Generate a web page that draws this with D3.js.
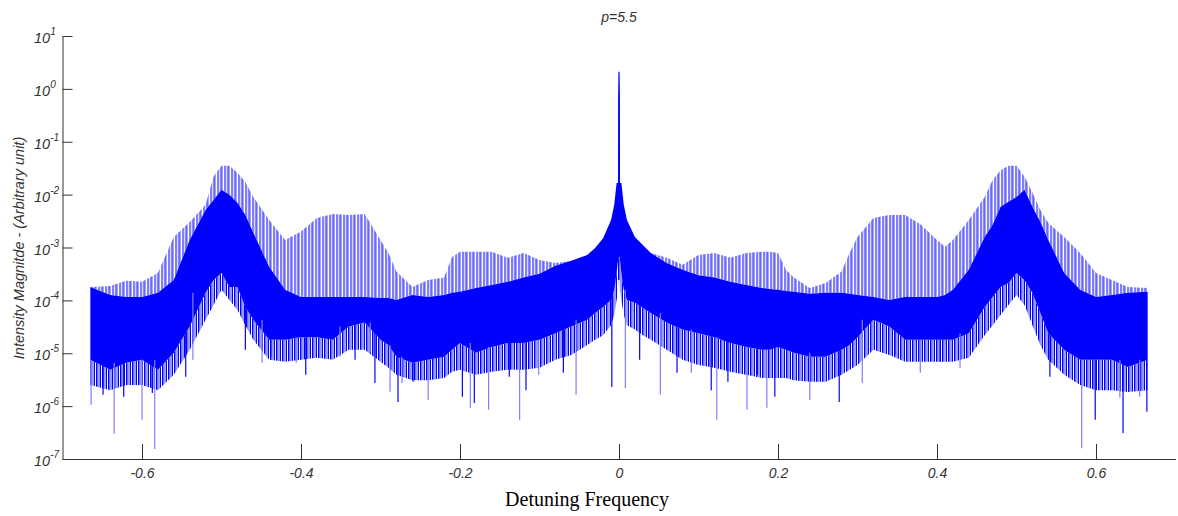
<!DOCTYPE html>
<html>
<head>
<meta charset="utf-8">
<script src="https://cdn.jsdelivr.net/npm/d3@7/dist/d3.min.js"></script>
<style>
  body { margin: 0; background: #fff; }
  svg text { font-family: "Liberation Sans", Arial, sans-serif; fill: #333; }
</style>
</head>
<body>
<div id="chart"></div>
<script>
// detuning frequency grid and the envelopes of the spectrum
var freq = [-0.665, -0.64, -0.62, -0.60, -0.58, -0.56, -0.54, -0.52, -0.51, -0.50, -0.49, -0.48, -0.47, -0.46,
    -0.44, -0.42, -0.40, -0.38, -0.36, -0.34, -0.32, -0.30, -0.29, -0.28, -0.26, -0.24, -0.22, -0.21, -0.20,
    -0.18, -0.16, -0.14, -0.12, -0.10, -0.08, -0.06, -0.04, -0.03, -0.02, -0.01, -0.006, -0.003, -0.0012,
    -0.001, 0, 0.001, 0.0012, 0.003, 0.006, 0.01, 0.02, 0.03, 0.04, 0.06, 0.08, 0.10, 0.12, 0.14, 0.16,
    0.18, 0.19, 0.20, 0.21, 0.22, 0.24, 0.26, 0.28, 0.29, 0.30, 0.32, 0.34, 0.36, 0.38, 0.40, 0.41, 0.42,
    0.44, 0.46, 0.47, 0.48, 0.49, 0.50, 0.51, 0.52, 0.53, 0.54, 0.56, 0.58, 0.60, 0.62, 0.64, 0.665];

// top of the comb of sidebands (light lines)
var combTop = [1.8e-4, 1.88e-4, 2.34e-4, 2.24e-4, 3.3e-4, 1.58e-3, 3.05e-3, 6.4e-3, 2.2e-2, 3.5e-2, 3.5e-2, 2.6e-2, 1.74e-2, 9.0e-3,
    3.3e-3, 1.39e-3, 2.0e-3, 3.6e-3, 4.3e-3, 4.1e-3, 4.3e-3, 1.39e-3, 7.9e-4, 3.5e-4, 1.8e-4, 2.44e-4, 2.7e-4, 6.6e-4, 8.3e-4,
    8.3e-4, 8.3e-4, 6.4e-4, 7.9e-4, 5.8e-4, 5.1e-4, 5.6e-4, 7.2e-4, 9.8e-4, 1.5e-3, 3.3e-3, 6.4e-3, 1.66e-2, 1.66e-2,
    0.62, 2.1, 0.62, 1.66e-2, 1.66e-2, 6.4e-3, 3.3e-3, 1.58e-3, 1.12e-3, 7.9e-4, 6.4e-4, 4.7e-4, 7.2e-4, 7.9e-4, 6.4e-4, 7.9e-4,
    8.3e-4, 8.3e-4, 7.9e-4, 3.8e-4, 2.7e-4, 1.72e-4, 2.14e-4, 3.5e-4, 7.9e-4, 1.58e-3, 3.6e-3, 4.1e-3, 4.1e-3, 2.7e-3, 1.39e-3, 1.03e-3, 1.39e-3,
    3.3e-3, 9.0e-3, 1.9e-2, 2.9e-2, 3.5e-2, 3.5e-2, 2.2e-2, 1.1e-2, 5.1e-3, 2.9e-3, 1.58e-3, 7.9e-4, 3.3e-4, 2.44e-4, 1.8e-4, 1.72e-4];

// top of the dense, solid part of the trace
var bodyTop = [1.8e-4, 1.27e-4, 1.16e-4, 1.16e-4, 1.39e-4, 2.44e-4, 1.39e-3, 5.1e-3, 7.9e-3, 1.23e-2, 9.9e-3, 7.0e-3, 4.1e-3, 1.9e-3,
    4.3e-4, 1.58e-4, 1.16e-4, 1.16e-4, 1.16e-4, 1.16e-4, 1.16e-4, 1.11e-4, 1.11e-4, 1.02e-4, 1.27e-4, 1.16e-4, 1.27e-4, 1.39e-4, 1.45e-4,
    1.72e-4, 1.96e-4, 2.24e-4, 2.7e-4, 3.2e-4, 4.5e-4, 5.6e-4, 7.2e-4, 9.8e-4, 1.5e-3, 3.3e-3, 6.4e-3, 1.66e-2, 1.66e-2,
    0.62, 2.1, 0.62, 1.66e-2, 1.66e-2, 6.4e-3, 3.3e-3, 1.58e-3, 1.12e-3, 7.9e-4, 5.1e-4, 3.8e-4, 3.0e-4, 2.7e-4, 2.24e-4, 1.96e-4,
    1.72e-4, 1.65e-4, 1.58e-4, 1.51e-4, 1.45e-4, 1.33e-4, 1.39e-4, 1.39e-4, 1.33e-4, 1.27e-4, 1.16e-4, 1.02e-4, 1.16e-4, 1.16e-4, 1.16e-4, 1.27e-4, 1.58e-4,
    3.8e-4, 1.58e-3, 2.7e-3, 5.9e-3, 7.3e-3, 9.0e-3, 1.23e-2, 5.9e-3, 3.05e-3, 1.39e-3, 3.3e-4, 1.58e-4, 1.16e-4, 1.27e-4, 1.39e-4, 1.45e-4];

// bottom of the dense part
var bodyBottom = [7.5e-6, 4.9e-6, 6.6e-6, 7.5e-6, 4.9e-6, 1.02e-5, 3.2e-5, 1.39e-4, 2.44e-4, 3.3e-4, 1.8e-4, 1.8e-4, 7.5e-5, 4.3e-5,
    1.8e-5, 1.8e-5, 2.0e-5, 2.0e-5, 1.8e-5, 3.2e-5, 3.8e-5, 1.8e-5, 1.44e-5, 8.6e-6, 6.6e-6, 7.5e-6, 8.6e-6, 1.16e-5, 1.57e-5,
    1.02e-5, 1.32e-5, 1.57e-5, 1.57e-5, 1.8e-5, 2.4e-5, 3.2e-5, 4.3e-5, 5.8e-5, 7.5e-5, 1.02e-4, 1.58e-4, 3.3e-4, 5.8e-4,
    6.6e-4, 6.6e-4, 6.6e-4, 5.8e-4, 3.3e-4, 1.58e-4, 1.02e-4, 9.0e-5, 7.2e-5, 5.8e-5, 3.8e-5, 2.8e-5, 2.4e-5, 2.0e-5, 1.57e-5, 1.32e-5,
    1.16e-5, 1.16e-5, 1.32e-5, 1.16e-5, 1.02e-5, 8.6e-6, 8.6e-6, 1.16e-5, 1.44e-5, 2.0e-5, 4.3e-5, 3.2e-5, 1.8e-5, 1.8e-5, 1.8e-5, 1.8e-5, 1.8e-5,
    2.4e-5, 7.5e-5, 1.16e-4, 1.8e-4, 2.14e-4, 3.3e-4, 2.44e-4, 1.39e-4, 5.8e-5, 2.4e-5, 1.16e-5, 7.5e-6, 7.5e-6, 7.5e-6, 5.5e-6, 7.5e-6];

// lower edge of the thick fringe of dips below the dense part
var fringeBottom = [2.5e-6, 2.0e-6, 2.5e-6, 2.5e-6, 2.0e-6, 3.9e-6, 1.16e-5, 4.3e-5, 8.2e-5, 1.58e-4, 1.02e-4, 6.6e-5, 3.4e-5, 1.8e-5,
    7.5e-6, 6.9e-6, 7.5e-6, 8.2e-6, 7.5e-6, 1.16e-5, 1.16e-5, 6.9e-6, 5.3e-6, 3.9e-6, 3.1e-6, 3.1e-6, 3.4e-6, 4.45e-6, 4.9e-6,
    3.9e-6, 4.45e-6, 4.9e-6, 4.9e-6, 5.3e-6, 7.5e-6, 9.3e-6, 1.44e-5, 1.8e-5, 2.2e-5, 3.4e-5, 5.3e-5, 1.02e-4, 1.58e-4,
    2.44e-4, 2.44e-4, 2.44e-4, 1.58e-4, 1.02e-4, 5.3e-5, 3.4e-5, 2.8e-5, 2.2e-5, 1.8e-5, 1.16e-5, 7.5e-6, 6.0e-6, 5.3e-6, 4.45e-6, 3.9e-6,
    3.4e-6, 3.4e-6, 3.4e-6, 3.4e-6, 3.1e-6, 2.9e-6, 2.9e-6, 3.9e-6, 4.9e-6, 6.0e-6, 1.16e-5, 9.3e-6, 6.9e-6, 6.9e-6, 6.9e-6, 6.9e-6, 6.9e-6,
    8.2e-6, 2.2e-5, 3.4e-5, 5.3e-5, 8.2e-5, 1.27e-4, 8.2e-5, 3.4e-5, 1.44e-5, 7.5e-6, 3.9e-6, 2.5e-6, 2.0e-6, 2.0e-6, 1.86e-6, 2.0e-6];

// isolated deep dips
var spikeFreq = [-0.664, -0.649, -0.635, -0.623, -0.600, -0.587, -0.584, -0.545, -0.536, -0.470, -0.449, -0.438, -0.406,
    -0.394, -0.351, -0.332, -0.313, -0.307, -0.288, -0.278, -0.273, -0.259, -0.240, -0.197, -0.187, -0.182, -0.164,
    -0.138, -0.125, -0.117, -0.101, -0.070, -0.054, -0.009, 0.008, 0.026, 0.052, 0.073, 0.091, 0.116, 0.123, 0.137,
    0.161, 0.174, 0.186, 0.196, 0.240, 0.277, 0.306, 0.347, 0.379, 0.404, 0.429, 0.542, 0.582, 0.599, 0.630, 0.634,
    0.655, 0.664];
var spikeLow = [1.06e-6, 1.64e-6, 3.0e-7, 1.5e-6, 5.5e-7, 1.78e-6, 1.55e-7, 3.6e-6, 7.5e-6, 1.16e-5, 6.6e-6, 8.6e-6, 6.6e-6,
    3.9e-6, 8.6e-6, 7.5e-6, 1.02e-5, 2.75e-6, 1.86e-6, 1.2e-6, 2.75e-6, 2.9e-6, 1.3e-6, 1.5e-6, 9.3e-7, 1.15e-6, 8.5e-7,
    3.6e-6, 5.5e-7, 2.0e-6, 3.9e-6, 4.3e-6, 1.64e-6, 2.3e-6, 2.2e-6, 7.5e-6, 1.64e-6, 4.3e-6, 4.3e-6, 2.0e-6, 5.5e-7, 2.9e-6,
    8.5e-7, 3.9e-6, 9.3e-7, 1.5e-6, 1.3e-6, 1.2e-6, 2.75e-6, 9.3e-6, 4.3e-6, 6.9e-6, 5.3e-6, 3.6e-6, 1.6e-7, 5.5e-7, 1.44e-6, 3.1e-7,
    1.5e-6, 7.8e-7];

var xTickValues = [-0.6, -0.4, -0.2, 0, 0.2, 0.4, 0.6];
var xTickLabels = ["-0.6", "-0.4", "-0.2", "0", "0.2", "0.4", "0.6"];
var yTickExps = [1, 0, -1, -2, -3, -4, -5, -6, -7];

var W = 1178, H = 516;
var blue = "#0000ff", lightBlue = "#7f7fff", ink = "#333";

var svg = d3.select("#chart").append("svg")
    .attr("width", W)
    .attr("height", H);

var x = d3.scaleLinear().domain([-0.7, 0.7]).range([62.5, 1175.5]);
var y = d3.scaleLog().domain([1e-7, 10]).range([459, 36]);

var rows = freq.map(function(f, i) {
    return {f: f, comb: combTop[i], top: bodyTop[i], bot: bodyBottom[i], fringe: fringeBottom[i]};
});

// stripe patterns standing in for the individual spectral lines
var defs = svg.append("defs");
var comb = defs.append("pattern")
    .attr("id", "combStripes")
    .attr("patternUnits", "userSpaceOnUse")
    .attr("width", 7).attr("height", 10);
comb.append("rect").attr("x", 0).attr("width", 2.3).attr("height", 10).attr("fill", lightBlue);
comb.append("rect").attr("x", 3.5).attr("width", 1.2).attr("height", 10).attr("fill", "#1010ff");
comb.append("rect").attr("x", 4.7).attr("width", 1.1).attr("height", 10).attr("fill", "#8c8cff");

var fringe = defs.append("pattern")
    .attr("id", "fringeStripes")
    .attr("patternUnits", "userSpaceOnUse")
    .attr("width", 6).attr("height", 10);
fringe.append("rect").attr("x", 0).attr("width", 1.6).attr("height", 10).attr("fill", blue);
fringe.append("rect").attr("x", 1.6).attr("width", 1.2).attr("height", 10).attr("fill", lightBlue);
fringe.append("rect").attr("x", 3.6).attr("width", 1.4).attr("height", 10).attr("fill", blue);

var plot = svg.append("g");

plot.append("path")
    .datum(rows)
    .attr("fill", "url(#fringeStripes)")
    .attr("d", d3.area()
        .x(function(d) { return x(d.f); })
        .y0(function(d) { return y(d.fringe); })
        .y1(function(d) { return y(d.bot); }));

plot.append("path")
    .datum(rows)
    .attr("fill", "url(#combStripes)")
    .attr("d", d3.area()
        .x(function(d) { return x(d.f); })
        .y0(function(d) { return y(d.top); })
        .y1(function(d) { return y(d.comb); }));

plot.append("path")
    .datum(rows)
    .attr("fill", blue)
    .attr("d", d3.area()
        .x(function(d) { return x(d.f); })
        .y0(function(d) { return y(d.bot); })
        .y1(function(d) { return y(d.top); }));

// deep single dips, drawn from inside the dense part down to their minimum
var bis = d3.bisector(function(d) { return d.f; }).left;
plot.selectAll(".dip")
    .data(spikeFreq)
    .enter().append("line")
    .attr("class", "dip")
    .attr("x1", function(d) { return x(d); })
    .attr("x2", function(d) { return x(d); })
    .attr("y1", function(d) {
        var i = Math.min(Math.max(bis(rows, d), 1), rows.length - 1);
        return y(Math.max(rows[i - 1].bot, rows[i].bot));
    })
    .attr("y2", function(d, i) { return y(spikeLow[i]); })
    .attr("stroke", function(d, i) { return i % 2 ? blue : lightBlue; })
    .attr("stroke-width", 1.2);

// carrier line at zero detuning
var peak = rows[d3.maxIndex(rows, function(d) { return d.top; })];
plot.append("line")
    .attr("x1", x(peak.f)).attr("x2", x(peak.f))
    .attr("y1", y(1.66e-2)).attr("y2", y(peak.top))
    .attr("stroke", blue).attr("stroke-width", 1.2);

// x axis, ticks pointing up into the plot
var xAxis = d3.axisBottom(x)
    .tickValues(xTickValues)
    .tickSizeInner(-15)
    .tickSizeOuter(0)
    .tickPadding(9)
    .tickFormat(function(d, i) { return xTickLabels[i]; });

var gx = svg.append("g")
    .attr("transform", "translate(0,459)")
    .call(xAxis);
gx.select(".domain").attr("stroke", ink);
gx.selectAll(".tick line").attr("stroke", ink);
gx.selectAll(".tick text")
    .attr("fill", ink)
    .style("font-size", "14px")
    .style("font-style", "italic")
    .style("font-family", "'Liberation Sans', Arial, sans-serif");

// y axis: decades plus minor ticks, all pointing right
var majors = yTickExps.map(function(e) { return Math.pow(10, e); });
var minors = [];
yTickExps.slice(1).forEach(function(e) {
    for (var k = 2; k < 10; k++) minors.push(k * Math.pow(10, e));
});

var gy = svg.append("g").attr("transform", "translate(62.5,0)");
gy.call(d3.axisRight(y).tickValues(minors).tickSizeInner(5).tickSizeOuter(0).tickFormat(""));
gy.call(d3.axisRight(y).tickValues(majors).tickSizeInner(10).tickSizeOuter(0).tickFormat(""));
gy.selectAll(".domain").attr("stroke", ink);
gy.selectAll(".tick line").attr("stroke", ink);

var ylab = svg.append("g").selectAll("text")
    .data(yTickExps)
    .enter().append("text")
    .attr("x", 34)
    .attr("y", function(e) { return y(Math.pow(10, e)) + 7; })
    .style("font-size", "14.5px")
    .style("font-style", "italic");
ylab.append("tspan").text("10");
ylab.append("tspan")
    .attr("dy", -8)
    .style("font-size", "10px")
    .text(function(e) { return e; });

// titles
svg.append("text")
    .attr("x", 619)
    .attr("y", 22)
    .attr("text-anchor", "middle")
    .style("font-size", "14px")
    .style("font-style", "italic")
    .text("p=5.5");

svg.append("text")
    .attr("transform", "translate(24,248) rotate(-90)")
    .attr("text-anchor", "middle")
    .style("font-size", "14.5px")
    .style("font-style", "italic")
    .text("Intensity Magnitde - (Arbitrary unit)");

svg.append("text")
    .attr("x", 587)
    .attr("y", 506)
    .attr("text-anchor", "middle")
    .style("font-family", "'Liberation Serif', 'Times New Roman', serif")
    .style("font-size", "20px")
    .style("fill", "#000")
    .text("Detuning Frequency");
</script>
</body>
</html>
